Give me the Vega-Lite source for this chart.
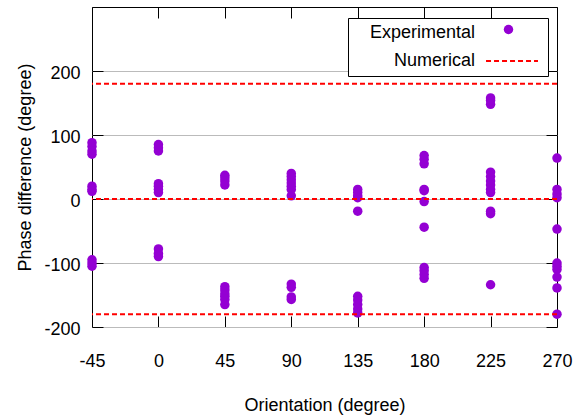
{
  "$schema": "https://vega.github.io/schema/vega-lite/v6.json",
  "width": 465,
  "height": 320,
  "autosize": "none",
  "padding": {"left": 92, "top": 7, "right": 16, "bottom": 88},
  "background": "white",
  "config": {
    "font": "Liberation Sans",
    "view": {"stroke": "black", "strokeWidth": 1},
    "axis": {
      "labelFont": "Liberation Sans",
      "labelFontSize": 18,
      "labelColor": "black",
      "labelFlush": false,
      "labelExpr": "'' + datum.value",
      "titleFont": "Liberation Sans",
      "titleFontSize": 18,
      "titleFontWeight": "normal",
      "titleColor": "black",
      "domain": false,
      "ticks": false
    }
  },
  "datasets": {
    "measured": [
      {"orientation": -45, "phase": 88, "series": "Experimental"},
      {"orientation": -45, "phase": 82, "series": "Experimental"},
      {"orientation": -45, "phase": 75, "series": "Experimental"},
      {"orientation": -45, "phase": 70, "series": "Experimental"},
      {"orientation": -45, "phase": 20, "series": "Experimental"},
      {"orientation": -45, "phase": 15, "series": "Experimental"},
      {"orientation": -45, "phase": 12, "series": "Experimental"},
      {"orientation": -45, "phase": -95, "series": "Experimental"},
      {"orientation": -45, "phase": -100, "series": "Experimental"},
      {"orientation": -45, "phase": -105, "series": "Experimental"},
      {"orientation": 0, "phase": 85, "series": "Experimental"},
      {"orientation": 0, "phase": 80, "series": "Experimental"},
      {"orientation": 0, "phase": 75, "series": "Experimental"},
      {"orientation": 0, "phase": 24, "series": "Experimental"},
      {"orientation": 0, "phase": 20, "series": "Experimental"},
      {"orientation": 0, "phase": 15, "series": "Experimental"},
      {"orientation": 0, "phase": 10, "series": "Experimental"},
      {"orientation": 0, "phase": -78, "series": "Experimental"},
      {"orientation": 0, "phase": -85, "series": "Experimental"},
      {"orientation": 0, "phase": -90, "series": "Experimental"},
      {"orientation": 45, "phase": 37, "series": "Experimental"},
      {"orientation": 45, "phase": 33, "series": "Experimental"},
      {"orientation": 45, "phase": 28, "series": "Experimental"},
      {"orientation": 45, "phase": 22, "series": "Experimental"},
      {"orientation": 45, "phase": -137, "series": "Experimental"},
      {"orientation": 45, "phase": -142, "series": "Experimental"},
      {"orientation": 45, "phase": -148, "series": "Experimental"},
      {"orientation": 45, "phase": -152, "series": "Experimental"},
      {"orientation": 45, "phase": -157, "series": "Experimental"},
      {"orientation": 45, "phase": -165, "series": "Experimental"},
      {"orientation": 90, "phase": 40, "series": "Experimental"},
      {"orientation": 90, "phase": 35, "series": "Experimental"},
      {"orientation": 90, "phase": 30, "series": "Experimental"},
      {"orientation": 90, "phase": 25, "series": "Experimental"},
      {"orientation": 90, "phase": 20, "series": "Experimental"},
      {"orientation": 90, "phase": 15, "series": "Experimental"},
      {"orientation": 90, "phase": 5, "series": "Experimental"},
      {"orientation": 90, "phase": -133, "series": "Experimental"},
      {"orientation": 90, "phase": -138, "series": "Experimental"},
      {"orientation": 90, "phase": -153, "series": "Experimental"},
      {"orientation": 90, "phase": -157, "series": "Experimental"},
      {"orientation": 135, "phase": 15, "series": "Experimental"},
      {"orientation": 135, "phase": 10, "series": "Experimental"},
      {"orientation": 135, "phase": 5, "series": "Experimental"},
      {"orientation": 135, "phase": 2, "series": "Experimental"},
      {"orientation": 135, "phase": -19, "series": "Experimental"},
      {"orientation": 135, "phase": -152, "series": "Experimental"},
      {"orientation": 135, "phase": -158, "series": "Experimental"},
      {"orientation": 135, "phase": -165, "series": "Experimental"},
      {"orientation": 135, "phase": -172, "series": "Experimental"},
      {"orientation": 135, "phase": -178, "series": "Experimental"},
      {"orientation": 180, "phase": 68, "series": "Experimental"},
      {"orientation": 180, "phase": 62, "series": "Experimental"},
      {"orientation": 180, "phase": 55, "series": "Experimental"},
      {"orientation": 180, "phase": 15, "series": "Experimental"},
      {"orientation": 180, "phase": 13, "series": "Experimental"},
      {"orientation": 180, "phase": -4, "series": "Experimental"},
      {"orientation": 180, "phase": -44, "series": "Experimental"},
      {"orientation": 180, "phase": -107, "series": "Experimental"},
      {"orientation": 180, "phase": -112, "series": "Experimental"},
      {"orientation": 180, "phase": -118, "series": "Experimental"},
      {"orientation": 180, "phase": -124, "series": "Experimental"},
      {"orientation": 225, "phase": 158, "series": "Experimental"},
      {"orientation": 225, "phase": 154, "series": "Experimental"},
      {"orientation": 225, "phase": 148, "series": "Experimental"},
      {"orientation": 225, "phase": 42, "series": "Experimental"},
      {"orientation": 225, "phase": 35, "series": "Experimental"},
      {"orientation": 225, "phase": 28, "series": "Experimental"},
      {"orientation": 225, "phase": 22, "series": "Experimental"},
      {"orientation": 225, "phase": 15, "series": "Experimental"},
      {"orientation": 225, "phase": 10, "series": "Experimental"},
      {"orientation": 225, "phase": -19, "series": "Experimental"},
      {"orientation": 225, "phase": -23, "series": "Experimental"},
      {"orientation": 225, "phase": -134, "series": "Experimental"},
      {"orientation": 270, "phase": 64, "series": "Experimental"},
      {"orientation": 270, "phase": 15, "series": "Experimental"},
      {"orientation": 270, "phase": 8, "series": "Experimental"},
      {"orientation": 270, "phase": 2, "series": "Experimental"},
      {"orientation": 270, "phase": -47, "series": "Experimental"},
      {"orientation": 270, "phase": -100, "series": "Experimental"},
      {"orientation": 270, "phase": -105, "series": "Experimental"},
      {"orientation": 270, "phase": -110, "series": "Experimental"},
      {"orientation": 270, "phase": -122, "series": "Experimental"},
      {"orientation": 270, "phase": -139, "series": "Experimental"},
      {"orientation": 270, "phase": -180, "series": "Experimental"}
    ],
    "numerical": [
      {"phase": 180, "series": "Numerical"},
      {"phase": 0, "series": "Numerical"},
      {"phase": -180, "series": "Numerical"}
    ]
  },
  "layer": [
    {
      "data": {"name": "measured"},
      "mark": {"type": "point", "filled": true, "opacity": 1, "size": 90},
      "encoding": {
        "x": {
          "field": "orientation",
          "type": "quantitative",
          "scale": {"domain": [-45, 270], "nice": false, "zero": false},
          "axis": {
            "values": [-45, 0, 45, 90, 135, 180, 225, 270],
            "grid": false,
            "labelPadding": 25,
            "title": "Orientation (degree)",
            "titlePadding": 26
          }
        },
        "y": {
          "field": "phase",
          "type": "quantitative",
          "scale": {"domain": [-200, 300], "nice": false, "zero": false},
          "axis": {
            "values": [-200, -100, 0, 100, 200],
            "grid": true,
            "gridColor": "#bbbbbb",
            "gridWidth": 1,
            "labelPadding": 12,
            "labelOffset": 2,
            "title": "Phase difference (degree)",
            "titlePadding": 9
          }
        },
        "color": {
          "field": "series",
          "type": "nominal",
          "scale": {"domain": ["Experimental"], "range": ["#9400d3"]},
          "legend": {
            "title": null,
            "orient": "none",
            "legendX": 256,
            "legendY": 11,
            "zindex": 2,
            "fillColor": "transparent",
            "strokeColor": "transparent",
            "padding": 6,
            "symbolType": "circle",
            "symbolSize": 90,
            "symbolOffset": 149,
            "labelExpr": "''"
          }
        }
      }
    },
    {
      "data": {"name": "numerical"},
      "mark": {"type": "rule", "strokeWidth": 2, "strokeDash": [5, 3]},
      "encoding": {
        "y": {"field": "phase", "type": "quantitative", "axis": null},
        "color": {
          "field": "series",
          "type": "nominal",
          "scale": {"domain": ["Experimental", "Numerical"], "range": ["transparent", "#ff0000"]},
          "legend": {
            "title": null,
            "orient": "none",
            "legendX": 256,
            "legendY": 11,
            "zindex": 1,
            "fillColor": "white",
            "strokeColor": "black",
            "cornerRadius": 0,
            "padding": 6,
            "rowPadding": 10,
            "symbolType": "M-5,0H5",
            "symbolSize": 108,
            "symbolStrokeWidth": 2,
            "symbolDash": [5, 3],
            "symbolOffset": 149,
            "labelAlign": "right",
            "labelOffset": -46,
            "labelFont": "Liberation Sans",
            "labelFontSize": 18,
            "labelColor": "black",
            "labelLimit": 300
          }
        }
      }
    },
    {
      "data": {"name": "measured"},
      "mark": {"type": "point", "opacity": 0},
      "encoding": {
        "x": {
          "field": "orientation",
          "type": "quantitative",
          "axis": {
            "orient": "top",
            "values": [-45, 0, 45, 90, 135, 180, 225, 270],
            "labels": false,
            "grid": true,
            "gridColor": "#000000",
            "gridWidth": 1,
            "gridDash": [11, 298, 11, 1000],
            "title": null
          }
        },
        "y": {
          "field": "phase",
          "type": "quantitative",
          "axis": {
            "orient": "right",
            "values": [-200, -100, 0, 100, 200],
            "labels": false,
            "grid": true,
            "gridColor": "#000000",
            "gridWidth": 1,
            "gridDash": [11, 443, 11, 1000],
            "title": null
          }
        }
      }
    }
  ],
  "resolve": {
    "axis": {"x": "independent", "y": "independent"},
    "scale": {"color": "independent"}
  }
}
